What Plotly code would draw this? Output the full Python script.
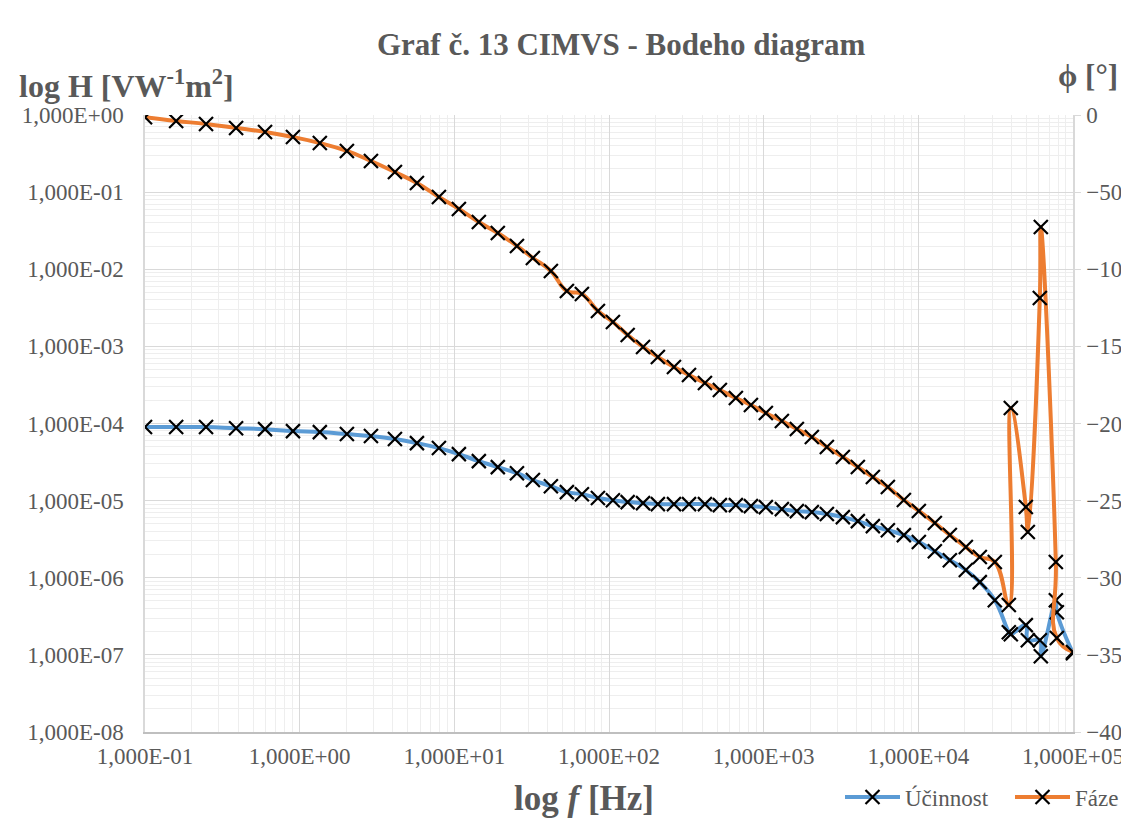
import plotly.graph_objects as go

# frequency points [Hz] (shared by both series)
freq_hz = [
    0.1, 0.159, 0.248, 0.388, 0.597, 0.905, 1.35, 2.02, 2.89, 4.13,
    5.73, 7.95, 10.7, 14.4, 19.1, 25.4, 32.2, 42.1, 53.4, 66.8,
    84.8, 106, 132, 166, 207, 263, 329, 417, 521, 661,
    827, 1033, 1311, 1639, 2049, 2562, 3251, 4064, 5082, 6354,
    8060, 10074, 12782, 15985, 20280, 24970, 31220,
    38460, 39620, 49540, 51040, 61020, 61940, 77440, 78610, 100000,
]

# Účinnost  H [V W^-1 m^2]
ucinnost = [
    9.0e-5, 9.0e-5, 9.0e-5, 8.7e-5, 8.45e-5, 7.97e-5, 7.73e-5, 7.29e-5, 6.87e-5, 6.28e-5,
    5.57e-5, 4.80e-5, 4.01e-5, 3.25e-5, 2.72e-5, 2.27e-5, 1.85e-5, 1.54e-5, 1.29e-5, 1.21e-5,
    1.08e-5, 1.01e-5, 9.57e-6, 9.28e-6, 9.01e-6, 9.0e-6, 9.0e-6, 9.0e-6, 8.75e-6, 8.75e-6,
    8.49e-6, 8.23e-6, 7.76e-6, 7.31e-6, 7.10e-6, 6.69e-6, 6.11e-6, 5.42e-6, 4.67e-6, 4.14e-6,
    3.57e-6, 2.90e-6, 2.21e-6, 1.69e-6, 1.26e-6, 8.78e-7, 5.12e-7,
    1.97e-7, 1.85e-7, 2.43e-7, 1.55e-7, 1.55e-7, 9.6e-8, 5.1e-7, 3.58e-7, 1.05e-7,
]

# Fáze  phi [deg]
faze = [
    -1.5, -3.9, -5.8, -8.4, -11.0, -14.3, -18.2, -23.3, -29.8, -37.0,
    -44.1, -53.2, -60.9, -69.4, -76.5, -84.9, -92.7, -101.1, -114.1, -116.0,
    -127.1, -134.2, -142.6, -150.4, -156.9, -163.4, -168.6, -173.7, -178.3, -183.5,
    -188.0, -193.2, -198.4, -203.6, -208.8, -215.2, -221.7, -228.2, -234.7, -241.2,
    -249.6, -256.7, -264.5, -272.3, -280.1, -286.5, -289.8,
    -317.7, -190.0, -254.1, -270.3, -118.6, -72.6, -289.8, -339.1, -348.1,
]

x_ticks = [1e-1, 1e0, 1e1, 1e2, 1e3, 1e4, 1e5]
x_ticklabels = ["1,000E-01", "1,000E+00", "1,000E+01", "1,000E+02",
                "1,000E+03", "1,000E+04", "1,000E+05"]
y_ticks = [1e-8, 1e-7, 1e-6, 1e-5, 1e-4, 1e-3, 1e-2, 1e-1, 1e0]
y_ticklabels = ["1,000E-08", "1,000E-07", "1,000E-06", "1,000E-05", "1,000E-04",
                "1,000E-03", "1,000E-02", "1,000E-01", "1,000E+00"]
phi_ticks = [0, -50, -100, -150, -200, -250, -300, -350, -400]

FONT = "Liberation Serif"
GRAY = "#595959"
# page body adds an 8px offset, so the figure is 8px smaller than the window
W, H = 1121, 810
L, R, T, B = 137, 56, 107, 86


def px(x):  # screen pixel -> paper x
    return (x - 145) / 928


def py(y):  # screen pixel -> paper y
    return (732 - y) / 617


x_minor = [m * 10.0 ** e for e in range(-1, 5) for m in range(2, 10)]
y_minor = [m * 10.0 ** e for e in range(-8, 0) for m in range(2, 10)]

marker = dict(symbol="x-thin", size=14, color="black", line=dict(width=2.2, color="black"))

fig = go.Figure()
fig.add_trace(go.Scatter(
    x=freq_hz, y=ucinnost, name="Účinnost", mode="lines+markers",
    line=dict(color="#5B9BD5", width=4, shape="spline", smoothing=1.3),
    marker=marker, yaxis="y",
))
fig.add_trace(go.Scatter(
    x=freq_hz, y=faze, name="Fáze", mode="lines+markers",
    line=dict(color="#ED7D31", width=4, shape="spline", smoothing=1.3),
    marker=marker, yaxis="y2",
))

fig.update_layout(
    width=W, height=H,
    margin=dict(l=L, r=R, t=T, b=B, autoexpand=False),
    paper_bgcolor="white", plot_bgcolor="white",
    font=dict(family=FONT, size=23, color=GRAY),
    xaxis=dict(type="log", range=[-1, 5], tickvals=x_ticks, ticktext=x_ticklabels,
               showgrid=True, gridcolor="#d9d9d9", gridwidth=1.3,
               minor=dict(tickvals=x_minor, showgrid=True, gridcolor="#eeeeee", gridwidth=1.3),
               showline=True, linecolor="#bfbfbf", linewidth=2, ticks="",
               ticklabelstandoff=2, zeroline=False, automargin=False),
    yaxis=dict(type="log", range=[-8, 0], tickvals=y_ticks, ticktext=y_ticklabels,
               showgrid=True, gridcolor="#d9d9d9", gridwidth=1.3,
               minor=dict(tickvals=y_minor, showgrid=True, gridcolor="#eeeeee", gridwidth=1.3),
               showline=True, linecolor="#d9d9d9", linewidth=1.5, ticks="",
               ticklabelstandoff=15, zeroline=False, automargin=False),
    yaxis2=dict(overlaying="y", side="right", range=[-400, 0], tickvals=phi_ticks,
                showgrid=False, zeroline=False, showline=True, linecolor="#d9d9d9",
                linewidth=1.5, ticks="outside", ticklen=6, tickcolor="#d9d9d9",
                ticklabelstandoff=1, automargin=False),
    legend=dict(orientation="h", x=px(840), xanchor="left",
                y=py(797), yanchor="middle",
                font=dict(family=FONT, size=23, color=GRAY),
                bgcolor="rgba(0,0,0,0)", itemwidth=55, entrywidth=100,
                tracegroupgap=0),
    showlegend=True,
)

# chart title and axis titles
fig.add_annotation(text="<b>Graf č. 13 CIMVS - Bodeho diagram</b>",
                   xref="paper", yref="paper", x=px(621), y=py(44),
                   xanchor="center", yanchor="middle", showarrow=False,
                   font=dict(family=FONT, size=31, color=GRAY))
fig.add_annotation(text="<b>log H [VW<sup>-1</sup>m<sup>2</sup>]</b>",
                   xref="paper", yref="paper", x=px(17), y=py(84),
                   xanchor="left", yanchor="middle", showarrow=False,
                   font=dict(family=FONT, size=32, color=GRAY))
fig.add_annotation(text="<b>ϕ [°]</b>",
                   xref="paper", yref="paper", x=px(1088), y=py(76),
                   xanchor="center", yanchor="middle", showarrow=False,
                   font=dict(family=FONT, size=31, color=GRAY))
fig.add_annotation(text="<b>log <i>f</i> [Hz]</b>",
                   xref="paper", yref="paper", x=px(584), y=py(799),
                   xanchor="center", yanchor="middle", showarrow=False,
                   font=dict(family=FONT, size=35, color=GRAY))

# chart area border (left edge)
fig.add_shape(type="line", xref="paper", yref="paper",
              x0=px(7), x1=px(7), y0=py(0), y1=py(818),
              line=dict(color="#d9d9d9", width=2))

fig.write_html("out.html")
